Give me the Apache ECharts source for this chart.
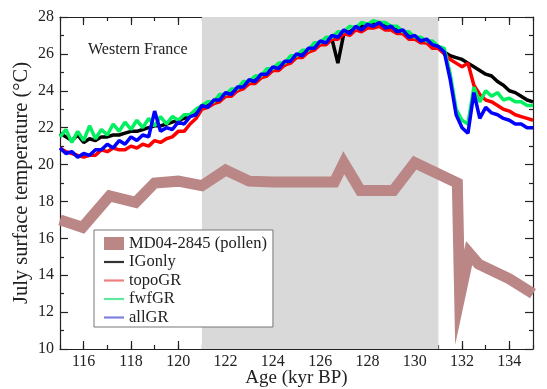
<!DOCTYPE html>
<html>
<head>
<meta charset="utf-8">
<script src="https://cdn.jsdelivr.net/npm/echarts@6/dist/echarts.min.js"></script>
<style>
  html, body { margin: 0; padding: 0; background: #fff; }
  #chart { width: 547px; height: 389px; }
</style>
</head>
<body>
<div id="chart"></div>
<script>
// model ages (kyr BP), 0.25 kyr steps
const ages = [
  115, 115.25, 115.5, 115.75, 116, 116.25, 116.5, 116.75, 117, 117.25, 117.5, 117.75,
  118, 118.25, 118.5, 118.75, 119, 119.25, 119.5, 119.75, 120, 120.25, 120.5, 120.75,
  121, 121.25, 121.5, 121.75, 122, 122.25, 122.5, 122.75, 123, 123.25, 123.5, 123.75,
  124, 124.25, 124.5, 124.75, 125, 125.25, 125.5, 125.75, 126, 126.25, 126.5, 126.75,
  127, 127.25, 127.5, 127.75, 128, 128.25, 128.5, 128.75, 129, 129.25, 129.5, 129.75,
  130, 130.25, 130.5, 130.75, 131, 131.25, 131.5, 131.75, 132, 132.25, 132.5, 132.75,
  133, 133.25, 133.5, 133.75, 134, 134.25, 134.5, 134.75, 135
]

const igOnly = [
  21.7, 21.5, 21.3, 21.6, 21.2, 21.4, 21.3, 21.5, 21.5, 21.6, 21.6, 21.7,
  21.8, 21.8, 21.9, 22.0, 22.1, 22.1, 22.2, 22.3, 22.4, 22.5, 22.7, 22.9,
  23.1, 23.2, 23.4, 23.5, 23.7, 23.9, 24.0, 24.2, 24.4, 24.6, 24.7, 24.9,
  25.1, 25.3, 25.4, 25.6, 25.8, 26.0, 26.1, 26.3, 26.5, 26.6, 26.8, 25.5,
  27.1, 27.2, 27.4, 27.5, 27.6, 27.7, 27.6, 27.5, 27.4, 27.3, 27.1, 27.0,
  26.8, 26.7, 26.6, 26.4, 26.3, 26.1, 25.9, 25.8, 25.7, 25.5, 25.3, 25.1,
  24.9, 24.8, 24.5, 24.3, 24.0, 23.9, 23.7, 23.5, 23.4
]

const topoGR = [
  20.9, 20.7, 20.6, 20.5, 20.4, 20.5, 20.5, 20.8, 20.7, 20.9, 20.8, 20.8,
  21.0, 20.9, 21.1, 21.0, 21.3, 21.2, 21.4, 21.5, 21.8, 21.8, 22.2, 22.5,
  23.0, 23.1, 23.3, 23.4, 23.7, 23.7, 24.0, 24.1, 24.4, 24.4, 24.7, 24.8,
  25.1, 25.1, 25.4, 25.5, 25.8, 25.8, 26.1, 26.2, 26.5, 26.5, 26.8, 26.8,
  27.1, 27.0, 27.3, 27.2, 27.4, 27.4, 27.5, 27.3, 27.3, 27.1, 27.1, 26.8,
  26.8, 26.6, 26.6, 26.3, 26.3, 26.0, 25.7, 25.5, 25.3, 25.5, 24.3, 23.8,
  23.5, 23.4, 23.2, 23.0, 22.9, 22.7, 22.6, 22.5, 22.4
]

const fwfGR = [
  21.5, 21.9, 21.2, 21.8, 21.3, 22.1, 21.4, 21.9, 21.6, 22.2, 21.8, 22.3,
  21.9, 22.4, 22.0, 22.5, 22.1, 22.6, 22.2, 22.6, 22.4, 22.7, 22.7, 23.0,
  23.2, 23.4, 23.4, 23.8, 23.8, 24.1, 24.1, 24.5, 24.5, 24.8, 24.8, 25.2,
  25.2, 25.5, 25.5, 25.9, 25.9, 26.2, 26.2, 26.6, 26.6, 26.9, 26.9, 27.2,
  27.2, 27.5, 27.4, 27.7, 27.6, 27.8, 27.7, 27.7, 27.5, 27.5, 27.2, 27.2,
  26.9, 26.9, 26.7, 26.7, 26.4, 26.3, 24.9, 23.0, 22.4, 22.2, 24.2, 23.4,
  24.0, 23.7, 23.9, 23.5, 23.6, 23.4, 23.4, 23.2, 23.2
]

const allGR = [
  20.9, 20.6, 20.7, 20.4, 20.6, 20.5, 20.8, 20.8, 21.1, 20.9, 21.3, 21.1,
  21.5, 21.3, 21.6, 21.5, 22.9, 21.8, 22.0, 21.9, 22.3, 22.2, 22.6, 22.7,
  23.2, 23.1, 23.5, 23.5, 23.9, 23.8, 24.2, 24.2, 24.6, 24.5, 24.9, 24.9,
  25.3, 25.2, 25.6, 25.6, 26.0, 25.9, 26.3, 26.3, 26.7, 26.6, 27.0, 26.9,
  27.3, 27.1, 27.5, 27.3, 27.6, 27.5, 27.7, 27.4, 27.5, 27.2, 27.3, 26.9,
  27.0, 26.7, 26.8, 26.5, 26.4, 26.1, 24.6, 22.7, 22.0, 21.7, 23.9, 22.5,
  23.1, 22.8, 22.7, 22.5, 22.4, 22.2, 22.2, 22.0, 22.0
]

// MD04-2845 pollen reconstruction
const pollenAge = [115, 115.95, 117.1, 118.2, 119, 120, 121, 122, 123, 124, 125, 126, 126.6, 127, 127.7, 129.1, 130, 131.8, 131.9, 132.3, 132.7, 134, 135]
const pollenT = [17.0, 16.6, 18.3, 17.95, 19.0, 19.1, 18.85, 19.7, 19.1, 19.05, 19.05, 19.05, 19.05, 20.1, 18.6, 18.6, 20.1, 19.0, 12.8, 15.2, 14.6, 13.8, 13.0]

const majorX = [116, 118, 120, 122, 124, 126, 128, 130, 132, 134]
const shadeRange = [121, 131]

const FONT = 'Liberation Serif'
const POLLEN = '#bb8686'
const LINE_ICON = 'path://M0,0 L20,0 L20,2.2 L0,2.2 Z'

function pair(xs, ys) {
  return xs.map((x, i) => [x, ys[i]])
}

function xAxisDef(position, major, labels) {
  return {
    type: 'value',
    position: position,
    min: 115,
    max: 135,
    interval: 1,
    axisLine: { show: major, lineStyle: { color: '#222', width: 1.2 } },
    axisTick: major
      ? { show: true, inside: true, length: 8, customValues: majorX, lineStyle: { color: '#222', width: 1.2 } }
      : { show: true, inside: true, length: 4, lineStyle: { color: '#222', width: 1.2 } },
    axisLabel: labels
      ? { show: true, customValues: majorX, margin: 5, color: '#222', fontSize: 16, fontFamily: FONT }
      : { show: false },
    splitLine: { show: false },
  }
}

function yAxisDef(position, labels) {
  return {
    type: 'value',
    position: position,
    min: 10,
    max: 28,
    interval: 2,
    axisLine: { show: true, lineStyle: { color: '#222', width: 1.2 } },
    axisTick: { show: true, inside: true, length: 8, lineStyle: { color: '#222', width: 1.2 } },
    minorTick: { show: true, splitNumber: 2, length: 4, lineStyle: { color: '#222', width: 1.2 } },
    axisLabel: labels
      ? { show: true, margin: 6, color: '#222', fontSize: 16, fontFamily: FONT }
      : { show: false },
    splitLine: { show: false },
    minorSplitLine: { show: false },
  }
}

const xAxes = [
  xAxisDef('bottom', true, true),
  xAxisDef('bottom', false, false),
  xAxisDef('top', true, false),
  xAxisDef('top', false, false),
]
xAxes[0].name = 'Age (kyr BP)'
xAxes[0].nameLocation = 'middle'
xAxes[0].nameGap = 20
xAxes[0].nameMoveOverlap = false
xAxes[0].nameTextStyle = { fontSize: 19, fontFamily: FONT, color: '#222' }

const yAxes = [yAxisDef('left', true), yAxisDef('right', false)]
yAxes[0].name = 'July surface temperature (°C)'
yAxes[0].nameLocation = 'middle'
yAxes[0].nameGap = 28
yAxes[0].nameMoveOverlap = false
yAxes[0].nameTextStyle = { fontSize: 20.5, fontFamily: FONT, color: '#222' }

function modelLine(name, values, color, z) {
  return {
    name: name,
    type: 'line',
    data: pair(ages, values),
    showSymbol: false,
    symbol: 'none',
    z: z,
    lineStyle: { color: color, width: 3.5 },
    itemStyle: { color: color },
  }
}

const chart = echarts.init(document.getElementById('chart'))

chart.setOption({
  animation: false,
  backgroundColor: '#fff',
  title: {
    text: 'Western France',
    left: 83,
    top: 37,
    textStyle: { fontSize: 16, fontWeight: 'normal', fontFamily: FONT, color: '#222' },
  },
  grid: { left: 60, right: 14, top: 17, bottom: 40, outerBoundsMode: 'none', containLabel: false },
  xAxis: xAxes,
  yAxis: yAxes,
  legend: {
    orient: 'vertical',
    left: 94,
    top: 230,
    padding: [5, 6, 1, 10],
    itemWidth: 20,
    itemHeight: 13,
    itemGap: 1.5,
    borderColor: '#777',
    borderWidth: 1,
    backgroundColor: '#fff',
    z: 10,
    textStyle: { fontSize: 16.5, fontFamily: FONT, color: '#222' },
    data: [
      { name: 'MD04-2845 (pollen)', icon: 'rect', itemStyle: { color: POLLEN } },
      { name: 'IGonly', icon: LINE_ICON, itemStyle: { color: '#333' } },
      { name: 'topoGR', icon: LINE_ICON, itemStyle: { color: '#f08080' } },
      { name: 'fwfGR', icon: LINE_ICON, itemStyle: { color: '#60e8a0' } },
      { name: 'allGR', icon: LINE_ICON, itemStyle: { color: '#8080e0' } },
    ],
  },
  series: [
    {
      name: 'shade',
      type: 'line',
      data: [],
      z: 1,
      silent: true,
      markArea: {
        silent: true,
        itemStyle: { color: '#d9d9d9' },
        data: [[{ xAxis: shadeRange[0] }, { xAxis: shadeRange[1] }]],
      },
    },
    {
      name: 'MD04-2845 (pollen)',
      type: 'line',
      data: pair(pollenAge, pollenT),
      showSymbol: false,
      symbol: 'none',
      z: 2,
      lineStyle: { color: POLLEN, width: 11, join: 'miter', miterLimit: 20 },
      itemStyle: { color: POLLEN },
    },
    modelLine('IGonly', igOnly, '#000000', 3),
    modelLine('topoGR', topoGR, '#ff0000', 4),
    modelLine('fwfGR', fwfGR, '#00f060', 5),
    modelLine('allGR', allGR, '#0000ff', 6),
  ],
})
</script>
</body>
</html>
